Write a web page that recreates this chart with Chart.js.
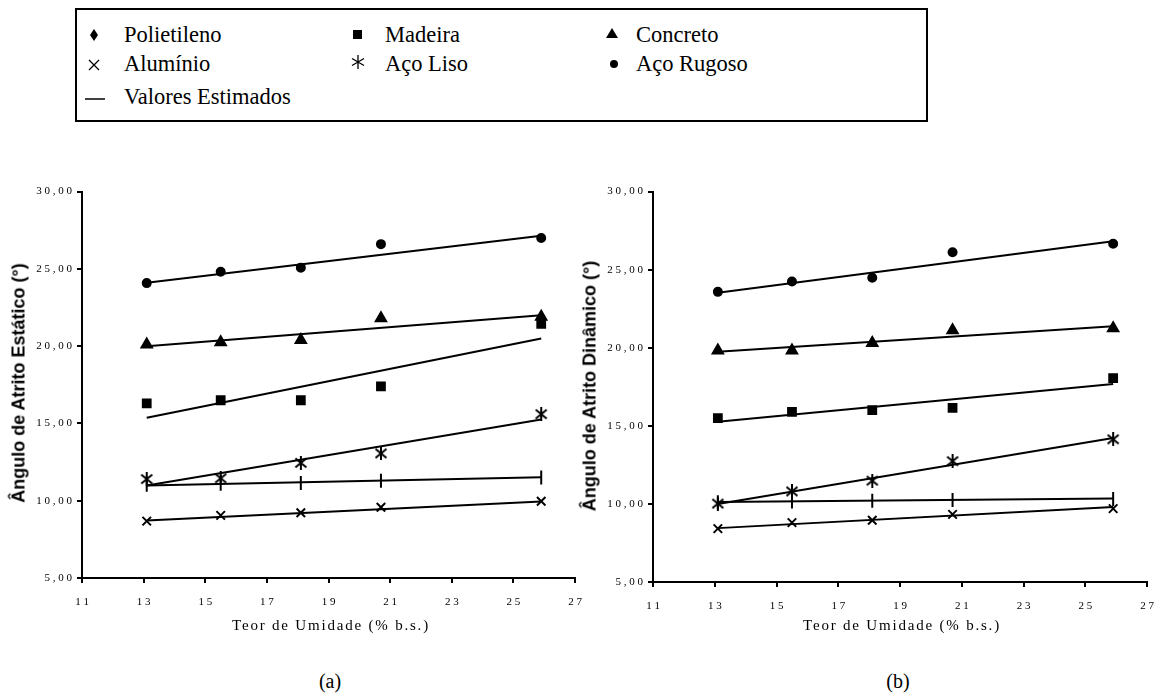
<!DOCTYPE html>
<html>
<head>
<meta charset="utf-8">
<script src="https://cdn.jsdelivr.net/npm/chart.js@4/dist/chart.umd.min.js"></script>
<style>
  body { margin: 0; background: #fff; width: 1167px; height: 698px; position: relative; overflow: hidden;
         font-family: "Liberation Serif", "Times New Roman", serif; }
  #legend { position: absolute; left: 75px; top: 8px; width: 849px; height: 110px; border: 2px solid #000;
            font-size: 22.5px; color: #000; }
  .item { position: absolute; white-space: nowrap; height: 26px; }
  .item svg { position: absolute; top: 0; }
  .item span { position: absolute; top: 0; line-height: 26px; font-family: "Liberation Serif", serif; }
  .cap { position: absolute; font-size: 20px; transform: translateX(-50%); }
  .xt { position: absolute; font-size: 15px; letter-spacing: 1.8px; transform: translateX(-50%); white-space: nowrap; }
  .yt { position: absolute; font-family: "Liberation Sans", Arial, sans-serif; font-weight: bold; font-size: 18px;
        transform: translate(-50%, -50%) rotate(-90deg); white-space: nowrap; }
  canvas { position: absolute; }
</style>
</head>
<body>
<div id="legend">
  <div class="item" style="left:0px;top:12px">
    <svg width="40" height="26"><polygon points="17,7 21,13 17,19 13,13" fill="#000"/></svg>
    <span style="left:47px">Polietileno</span></div>
  <div class="item" style="left:262px;top:12px">
    <svg width="40" height="26"><rect x="14" y="8" width="9" height="9" fill="#000"/></svg>
    <span style="left:46px">Madeira</span></div>
  <div class="item" style="left:516px;top:12px">
    <svg width="40" height="26"><polygon points="19,6 25,16 13,16" fill="#000"/></svg>
    <span style="left:43px">Concreto</span></div>
  <div class="item" style="left:0px;top:41px">
    <svg width="40" height="26"><path d="M12,9 L22,19 M22,9 L12,19" stroke="#000" stroke-width="1.3"/></svg>
    <span style="left:47px">Alum&iacute;nio</span></div>
  <div class="item" style="left:262px;top:41px">
    <svg width="40" height="26"><path d="M19,4 L19,18 M13,7.5 L25,14.5 M25,7.5 L13,14.5" stroke="#000" stroke-width="1.3"/></svg>
    <span style="left:46px">A&ccedil;o Liso</span></div>
  <div class="item" style="left:516px;top:41px">
    <svg width="40" height="26"><circle cx="21" cy="13" r="4" fill="#000"/></svg>
    <span style="left:43px">A&ccedil;o Rugoso</span></div>
  <div class="item" style="left:0px;top:74px">
    <svg width="40" height="26"><line x1="8" y1="15" x2="28" y2="15" stroke="#000" stroke-width="1.5"/></svg>
    <span style="left:47px">Valores Estimados</span></div>
</div>

<canvas id="chartA" width="595" height="440" style="left:0px;top:180px"></canvas>
<canvas id="chartB" width="596" height="440" style="left:571px;top:180px"></canvas>

<div class="yt" style="left:19px;top:383px">Ângulo de Atrito Estático (°)</div>
<div class="yt" style="left:590px;top:386px">Ângulo de Atrito Dinâmico (°)</div>
<div class="xt" style="left:331px;top:617px">Teor de Umidade (% b.s.)</div>
<div class="xt" style="left:902px;top:617px">Teor de Umidade (% b.s.)</div>

<div class="cap" style="left:330px;top:670px">(a)</div>
<div class="cap" style="left:898px;top:670px">(b)</div>

<script>
// teor de umidade (% b.s.)
const moisture = [13.1, 15.5, 18.1, 20.7, 25.9];
const fitX = [13.1, 25.9];

// (a) angulo de atrito estatico
const polietilenoA = [11.03, 11.09, 11.15, 11.3, 11.51];
const madeiraA = [16.3, 16.5, 16.5, 17.4, 21.45];
const concretoA = [20.1, 20.25, 20.4, 21.8, 21.9];
const aluminioA = [8.68, 9.05, 9.22, 9.58, 9.97];
const acoLisoA = [11.4, 11.45, 12.45, 13.06, 15.6];
const acoRugosoA = [24.08, 24.82, 25.08, 26.6, 27.0];
// (a) retas estimadas (inicio, fim)
const fitPolietilenoA = [10.98, 11.52];
const fitMadeiraA = [15.37, 20.5];
const fitConcretoA = [20.0, 22.0];
const fitAluminioA = [8.72, 9.95];
const fitAcoLisoA = [10.98, 15.25];
const fitAcoRugosoA = [24.1, 27.15];

// (b) angulo de atrito dinamico
const polietilenoB = [10.1, 10.15, 10.2, 10.25, 10.32];
const madeiraB = [15.5, 15.9, 16.0, 16.15, 18.05];
const concretoB = [19.82, 19.82, 20.3, 21.12, 21.25];
const aluminioB = [8.42, 8.8, 8.95, 9.33, 9.7];
const acoLisoB = [10.02, 10.8, 11.49, 12.74, 14.14];
const acoRugosoB = [23.58, 24.24, 24.48, 26.12, 26.66];
const fitPolietilenoB = [10.12, 10.34];
const fitMadeiraB = [15.26, 17.68];
const fitConcretoB = [19.75, 21.37];
const fitAluminioB = [8.45, 9.8];
const fitAcoLisoB = [10.0, 14.22];
const fitAcoRugosoB = [23.52, 26.82];

const xTicks = [11, 13, 15, 17, 19, 21, 23, 25, 27];
const yTicks = [5, 10, 15, 20, 25, 30];

// asterisco de 6 bracos (Aço Liso)
const asterisk = document.createElement('canvas');
asterisk.width = 14; asterisk.height = 14;
(function () {
    const c = asterisk.getContext('2d');
    c.strokeStyle = '#000';
    c.lineWidth = 2;
    c.beginPath();
    c.moveTo(7, 0); c.lineTo(7, 14);
    c.moveTo(1.5, 2.5); c.lineTo(12.5, 11.5);
    c.moveTo(12.5, 2.5); c.lineTo(1.5, 11.5);
    c.stroke();
})();

function pts(xs, ys) {
    return xs.map((x, i) => ({ x: x, y: ys[i] }));
}

function spaced(s) {
    return s.split('').join(' ');
}

function markers(label, ys, style, radius, rotation) {
    return {
        label: label,
        data: pts(moisture, ys),
        showLine: false,
        pointStyle: style,
        pointRadius: radius,
        pointRotation: rotation || 0,
        pointBorderWidth: 2,
        pointBackgroundColor: '#000',
        pointBorderColor: '#000'
    };
}

function fitLine(ys) {
    return {
        label: 'Valores Estimados',
        data: pts(fitX, ys),
        showLine: true,
        borderColor: '#000',
        borderWidth: 2,
        pointRadius: 0
    };
}

function makeChart(id, d, fits, xHeight) {
    const ctx = document.getElementById(id).getContext('2d');
    return new Chart(ctx, {
        type: 'scatter',
        data: {
            datasets: [
                fitLine(fits[0]), fitLine(fits[1]), fitLine(fits[2]),
                fitLine(fits[3]), fitLine(fits[4]), fitLine(fits[5]),
                markers('Polietileno', d[0], 'line', 7, 90),
                markers('Madeira', d[1], 'rect', 5.5),
                markers('Concreto', d[2], 'triangle', 6),
                markers('Alumínio', d[3], 'crossRot', 6),
                markers('Aço Liso', d[4], asterisk, 7),
                markers('Aço Rugoso', d[5], 'circle', 4)
            ]
        },
        options: {
            responsive: false,
            animation: false,
            layout: { padding: { top: 9, right: 17, bottom: 2, left: 0 } },
            plugins: { legend: { display: false }, tooltip: { enabled: false } },
            scales: {
                x: {
                    type: 'linear',
                    min: 11, max: 27,
                    afterBuildTicks: s => { s.ticks = xTicks.map(v => ({ value: v })); },
                    afterFit: s => { s.height = xHeight; },
                    grid: { drawOnChartArea: false, drawTicks: true, tickLength: 5, tickColor: '#000', lineWidth: 2 },
                    border: { display: true, color: '#000', width: 2 },
                    ticks: {
                        color: '#000', padding: 13,
                        font: { family: 'Liberation Serif', size: 11 },
                        callback: v => spaced(String(v))
                    }
                },
                y: {
                    type: 'linear',
                    min: 5, max: 30,
                    afterBuildTicks: s => { s.ticks = yTicks.map(v => ({ value: v })); },
                    afterFit: s => { s.width = 82; },
                    grid: { drawOnChartArea: false, drawTicks: true, tickLength: 5, tickColor: '#000', lineWidth: 2 },
                    border: { display: true, color: '#000', width: 2 },
                    ticks: {
                        color: '#000', padding: 5,
                        font: { family: 'Liberation Serif', size: 11 },
                        callback: v => spaced(v.toFixed(2).replace('.', ','))
                    }
                }
            }
        }
    });
}

makeChart('chartA',
    [polietilenoA, madeiraA, concretoA, aluminioA, acoLisoA, acoRugosoA],
    [fitPolietilenoA, fitMadeiraA, fitConcretoA, fitAluminioA, fitAcoLisoA, fitAcoRugosoA], 40);

makeChart('chartB',
    [polietilenoB, madeiraB, concretoB, aluminioB, acoLisoB, acoRugosoB],
    [fitPolietilenoB, fitMadeiraB, fitConcretoB, fitAluminioB, fitAcoLisoB, fitAcoRugosoB], 36);
</script>
</body>
</html>
